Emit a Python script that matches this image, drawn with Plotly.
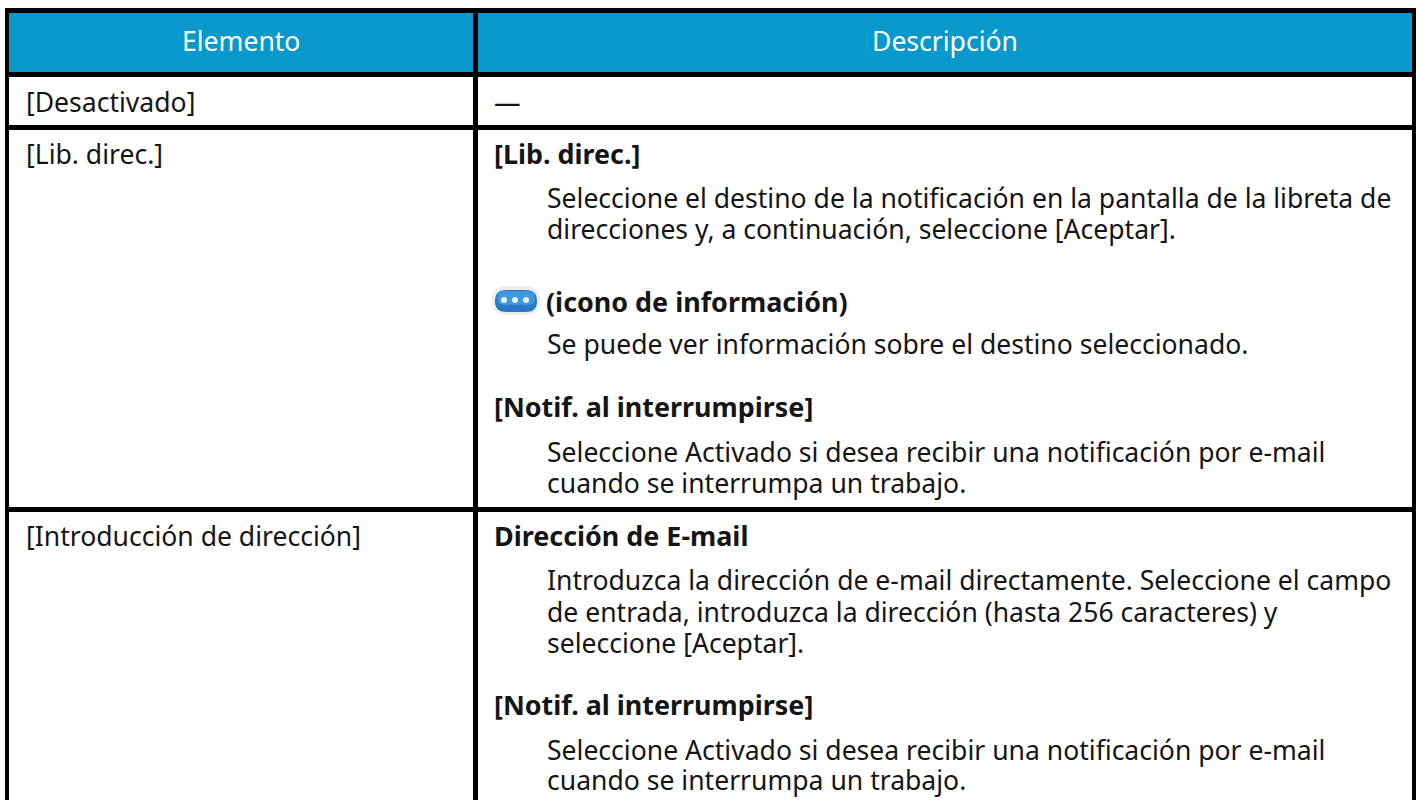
import plotly.graph_objects as go

WIDTH, HEIGHT = 1419, 800
BLACK = "#000000"
HEADER_BLUE = "#0899CC"
TEXT = "#151515"
FONT = "Noto Sans, Open Sans, sans-serif"
SIZE_BODY = 26.55
SIZE_BOLD = 26.9
MID_TO_BASE = 8.5

headers = ["Elemento", "Descripción"]
items = ["[Desactivado]", "[Lib. direc.]", "[Introducción de dirección]"]
item_base = [110, 162, 544]
desc_text = [
    ("—", False, 492, 110),
    ("[Lib. direc.]", True, 492, 162),
    ("Seleccione el destino de la notificación en la pantalla de la libreta de", False, 545, 206),
    ("direcciones y, a continuación, seleccione [Aceptar].", False, 545, 237),
    ("(icono de información)", True, 544, 310),
    ("Se puede ver información sobre el destino seleccionado.", False, 545, 352),
    ("[Notif. al interrumpirse]", True, 492, 415),
    ("Seleccione Activado si desea recibir una notificación por e-mail", False, 545, 460),
    ("cuando se interrumpa un trabajo.", False, 545, 491),
    ("Dirección de E-mail", True, 492, 544),
    ("Introduzca la dirección de e-mail directamente. Seleccione el campo", False, 545, 588),
    ("de entrada, introduzca la dirección (hasta 256 caracteres) y", False, 545, 620),
    ("seleccione [Aceptar].", False, 545, 651),
    ("[Notif. al interrumpirse]", True, 492, 713),
    ("Seleccione Activado si desea recibir una notificación por e-mail", False, 545, 758),
    ("cuando se interrumpa un trabajo.", False, 545, 788),
]

fig = go.Figure()
fig.update_xaxes(range=[0, WIDTH], visible=False, fixedrange=True)
fig.update_yaxes(range=[HEIGHT, 0], visible=False, fixedrange=True)

def rect(x0, y0, x1, y1, color):
    fig.add_shape(type="rect", x0=x0, y0=y0, x1=x1, y1=y1,
                  fillcolor=color, line_width=0, layer="below")

def pill(x0, y0, x1, y1, color):
    r = (y1 - y0) / 2
    path = (f"M {x0 + r} {y0} H {x1 - r} Q {x1} {y0} {x1} {y0 + r} Q {x1} {y1} {x1 - r} {y1} "
            f"H {x0 + r} Q {x0} {y1} {x0} {y0 + r} Q {x0} {y0} {x0 + r} {y0} Z")
    fig.add_shape(type="path", path=path, fillcolor=color, line_width=0, layer="below")

rect(5, 8, 1416, 13, BLACK)
rect(9, 13, 1412, 72, HEADER_BLUE)
for y0 in (72, 125, 507):
    rect(5, y0, 1416, y0 + 5, BLACK)
rect(5, 8, 9, 800, BLACK)
rect(473, 8, 478, 800, BLACK)
rect(1412, 8, 1416, 800, BLACK)

def label(text, x, base, size, bold=False, color=TEXT, anchor="left"):
    fig.add_annotation(x=x, y=base - MID_TO_BASE, text=f"<b>{text}</b>" if bold else text,
                       showarrow=False, xanchor=anchor, yanchor="middle", align="left",
                       font=dict(family=FONT, size=size, color=color))

label(headers[0], 241, 49, SIZE_BODY, color="white", anchor="center")
label(headers[1], 945, 49, SIZE_BODY, color="white", anchor="center")
for name, base in zip(items, item_base):
    label(name, 24, base, SIZE_BODY)
for text, bold, x, base in desc_text:
    label(text, x, base, SIZE_BOLD if bold else SIZE_BODY, bold)

# info icon: soft grey halo, blue pill, three white dots
pill(492, 286, 540, 315, "#ECEEEE")
pill(495, 290, 537, 312, "#2A79C6")
pill(497, 291, 535, 305, "#3F97DE")
fig.add_trace(go.Scatter(x=[504, 515, 526], y=[300, 300, 300], mode="markers",
                         marker=dict(color="#EAF4FC", size=6), hoverinfo="skip", showlegend=False))

fig.update_layout(width=WIDTH, height=HEIGHT, margin=dict(l=0, r=0, t=0, b=0),
                  plot_bgcolor="white", paper_bgcolor="white", showlegend=False)
fig.write_html("out.html", config={"displayModeBar": False},
               post_script="document.body.style.margin='0';")
